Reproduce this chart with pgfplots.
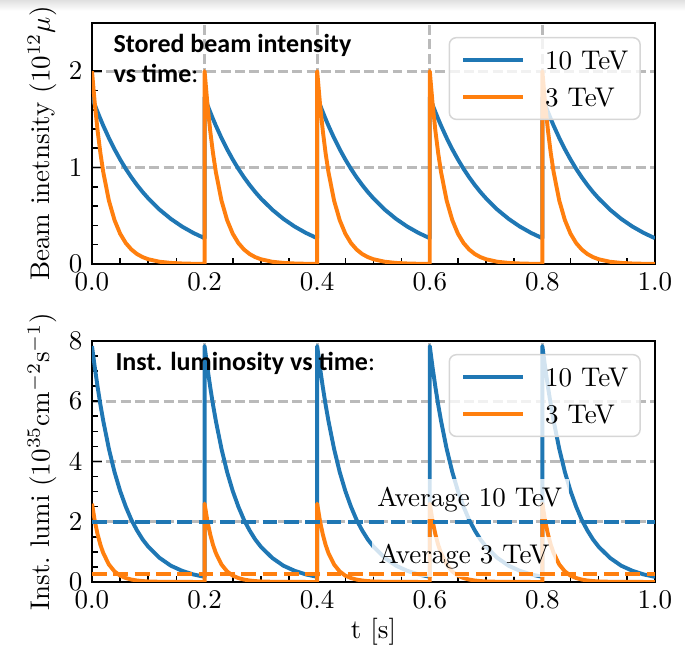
\documentclass[border=0pt]{standalone}
\usepackage{fontspec}
\usepackage{pgfplots}
\usepackage{pgfplotstable}
\pgfplotsset{compat=1.18}
\newfontfamily\carlito{Carlito}
\definecolor{mplblue}{HTML}{1F77B4}
\definecolor{mplorange}{HTML}{FF7F0E}
\definecolor{gridgray}{HTML}{BABABA}
\definecolor{leggray}{HTML}{D6D6D6}

\pgfplotstableread{
t bI oI bL oL
0.000 1.730 2.000 7.83 2.60
0.005 1.651 1.662 7.12 2.02
0.010 1.576 1.381 6.47 1.58
0.015 1.504 1.148 5.88 1.23
0.020 1.435 0.954 5.35 0.96
0.030 1.307 0.658 4.42 0.58
0.040 1.190 0.455 3.65 0.35
0.050 1.084 0.314 3.02 0.21
0.060 0.987 0.217 2.50 0.13
0.070 0.899 0.150 2.06 0.079
0.080 0.819 0.103 1.71 0.048
0.090 0.746 0.071 1.41 0.029
0.100 0.680 0.049 1.17 0.017
0.120 0.564 0.023 0.80 0.006
0.140 0.468 0.011 0.54 0.002
0.160 0.388 0.005 0.37 0.001
0.180 0.322 0.002 0.25 0.000
0.200 0.267 0.001 0.17 0.000
0.200 1.730 2.000 7.83 2.60
0.205 1.651 1.662 7.12 2.02
0.210 1.576 1.381 6.47 1.58
0.215 1.504 1.148 5.88 1.23
0.220 1.435 0.954 5.35 0.96
0.230 1.307 0.658 4.42 0.58
0.240 1.190 0.455 3.65 0.35
0.250 1.084 0.314 3.02 0.21
0.260 0.987 0.217 2.50 0.13
0.270 0.899 0.150 2.06 0.079
0.280 0.819 0.103 1.71 0.048
0.290 0.746 0.071 1.41 0.029
0.300 0.680 0.049 1.17 0.017
0.320 0.564 0.023 0.80 0.006
0.340 0.468 0.011 0.54 0.002
0.360 0.388 0.005 0.37 0.001
0.380 0.322 0.002 0.25 0.000
0.400 0.267 0.001 0.17 0.000
0.400 1.730 2.000 7.83 2.60
0.405 1.651 1.662 7.12 2.02
0.410 1.576 1.381 6.47 1.58
0.415 1.504 1.148 5.88 1.23
0.420 1.435 0.954 5.35 0.96
0.430 1.307 0.658 4.42 0.58
0.440 1.190 0.455 3.65 0.35
0.450 1.084 0.314 3.02 0.21
0.460 0.987 0.217 2.50 0.13
0.470 0.899 0.150 2.06 0.079
0.480 0.819 0.103 1.71 0.048
0.490 0.746 0.071 1.41 0.029
0.500 0.680 0.049 1.17 0.017
0.520 0.564 0.023 0.80 0.006
0.540 0.468 0.011 0.54 0.002
0.560 0.388 0.005 0.37 0.001
0.580 0.322 0.002 0.25 0.000
0.600 0.267 0.001 0.17 0.000
0.600 1.730 2.000 7.83 2.60
0.605 1.651 1.662 7.12 2.02
0.610 1.576 1.381 6.47 1.58
0.615 1.504 1.148 5.88 1.23
0.620 1.435 0.954 5.35 0.96
0.630 1.307 0.658 4.42 0.58
0.640 1.190 0.455 3.65 0.35
0.650 1.084 0.314 3.02 0.21
0.660 0.987 0.217 2.50 0.13
0.670 0.899 0.150 2.06 0.079
0.680 0.819 0.103 1.71 0.048
0.690 0.746 0.071 1.41 0.029
0.700 0.680 0.049 1.17 0.017
0.720 0.564 0.023 0.80 0.006
0.740 0.468 0.011 0.54 0.002
0.760 0.388 0.005 0.37 0.001
0.780 0.322 0.002 0.25 0.000
0.800 0.267 0.001 0.17 0.000
0.800 1.730 2.000 7.83 2.60
0.805 1.651 1.662 7.12 2.02
0.810 1.576 1.381 6.47 1.58
0.815 1.504 1.148 5.88 1.23
0.820 1.435 0.954 5.35 0.96
0.830 1.307 0.658 4.42 0.58
0.840 1.190 0.455 3.65 0.35
0.850 1.084 0.314 3.02 0.21
0.860 0.987 0.217 2.50 0.13
0.870 0.899 0.150 2.06 0.079
0.880 0.819 0.103 1.71 0.048
0.890 0.746 0.071 1.41 0.029
0.900 0.680 0.049 1.17 0.017
0.920 0.564 0.023 0.80 0.006
0.940 0.468 0.011 0.54 0.002
0.960 0.388 0.005 0.37 0.001
0.980 0.322 0.002 0.25 0.000
1.000 0.267 0.001 0.17 0.000
}\cycles

\newcommand{\ann}{\carlito\bfseries\fontsize{9.63}{10}\selectfont}

\pgfplotsset{
  myaxis/.style={
    scale only axis, width=208.5pt, height=89.26pt,
    xmin=0, xmax=1,
    xtick={0,0.2,0.4,0.6,0.8,1.0},
    minor x tick num=3,
    xticklabel style={/pgf/number format/.cd, fixed, fixed zerofill, precision=1},
    tick align=inside, xtick pos=bottom, ytick pos=left,
    major tick length=3.7pt, minor tick length=2.2pt,
    every tick/.style={black, line width=0.6pt},
    axis line style={line width=0.85pt},
    xmajorgrids, ymajorgrids,
    major grid style={gridgray, line width=1pt, dash pattern=on 3.7pt off 1.6pt},
    tick label style={font=\normalsize},
    label style={font=\normalsize},
    ylabel style={at={(axis description cs:-0.0888,0.5)}, anchor=center},
    legend style={at={(axis description cs:0.975,0.942)}, anchor=north east,
      draw=leggray, line width=0.55pt, rounded corners=2.6pt,
      fill=white, fill opacity=0.8, text opacity=1, draw opacity=1,
      font=\normalsize, inner xsep=4.4pt, inner ysep=4.8pt,
      row sep=7pt, column sep=7.4pt,
      nodes={inner sep=0pt, text depth=0pt}},
    legend cell align=left,
    legend image code/.code={\draw[#1, line width=1.45pt] (0pt,0pt) -- (22.2pt,0pt);},
    every axis plot/.append style={line width=1.45pt, line join=round},
  }
}

\begin{document}
\begin{tikzpicture}[x=1pt,y=1pt]
\shade[top color=black!12, bottom color=white] (0,238.2) rectangle (253.7,242.2);
\begin{axis}[myaxis, at={(34.07pt,144.44pt)}, anchor=south west,
  ymin=0, ymax=2.5, ytick={0,1,2}, minor y tick num=4,
  ylabel={Beam inetnsity $(10^{12}\mu)$}]
\addplot[mplblue] table[x=t, y=bI] {\cycles};
\addlegendentry{10 TeV}
\addplot[mplorange] table[x=t, y=oI] {\cycles};
\addlegendentry{3 TeV}
\node[anchor=base west, font=\ann, inner sep=0pt] at (rel axis cs:0.0373,0.8755) {Stored beam intensity};
\node[anchor=base west, font=\ann, inner sep=0pt] at (rel axis cs:0.0373,0.751) {vs time{\mdseries:}};
\end{axis}
\begin{axis}[myaxis, at={(34.07pt,26.67pt)}, anchor=south west,
  ymin=0, ymax=8, ytick={0,2,4,6,8}, minor y tick num=3,
  ylabel={Inst.\ lumi $(10^{35}\mathrm{cm}^{-2}\mathrm{s}^{-1})$},
  xlabel={t [s]},
  xlabel style={at={(axis description cs:0.5,-0.207)}, anchor=center},
  legend style={at={(axis description cs:0.975,0.946)}}]
\addplot[mplblue] table[x=t, y=bL] {\cycles};
\addlegendentry{10 TeV}
\addplot[mplorange] table[x=t, y=oL] {\cycles};
\addlegendentry{3 TeV}
\node[font=\normalsize, fill=white, fill opacity=0.8, text opacity=1, inner xsep=2.5pt, inner ysep=2.8pt] at (axis cs:0.671,2.74) {Average 10 TeV};
\node[font=\normalsize, fill=white, fill opacity=0.8, text opacity=1, inner xsep=2.5pt, inner ysep=2.8pt] at (axis cs:0.661,0.83) {Average 3 TeV};
\addplot[mplblue, line width=1.45pt, dash pattern=on 5.5pt off 2.4pt, forget plot] coordinates {(0,2.0) (1,2.0)};
\addplot[mplorange, line width=1.45pt, dash pattern=on 5.5pt off 2.4pt, forget plot] coordinates {(0,0.25) (1,0.25)};
\node[anchor=base west, font=\ann, inner sep=0pt] at (rel axis cs:0.0409,0.876) {Inst. luminosity vs time{\mdseries:}};
\end{axis}
\pgfresetboundingbox
\path[use as bounding box] (0,0) rectangle (253.7,242.2);
\end{tikzpicture}
\end{document}
